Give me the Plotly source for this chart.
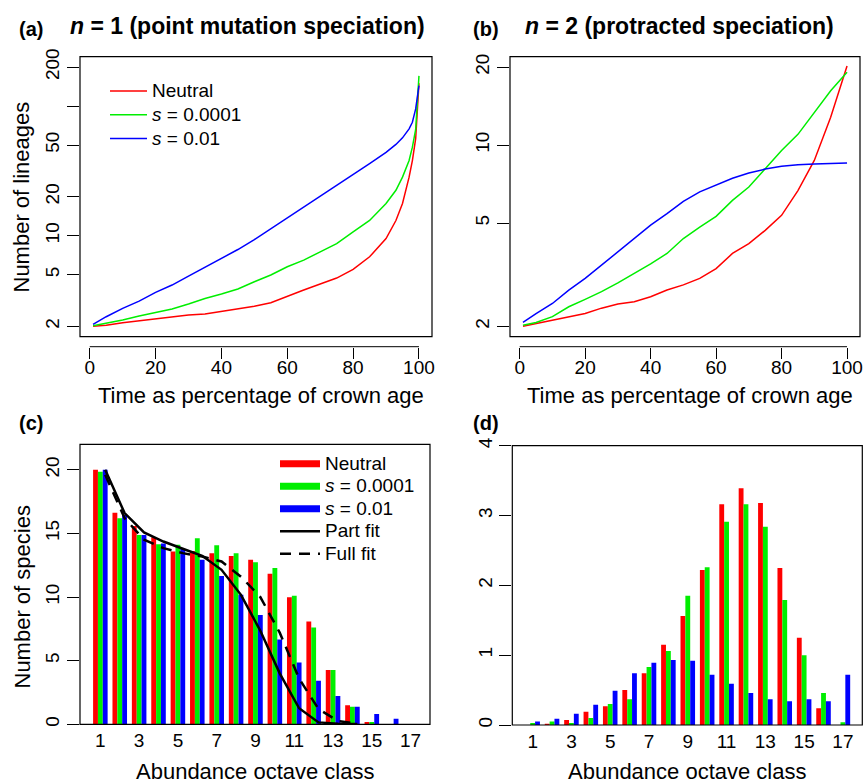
import plotly.graph_objects as go

W, H = 865, 784

# ---------------- data ----------------
# Panel (a): lineages through time, n = 1
t_a = [1, 5, 10, 15, 20, 25, 30, 35, 40, 45, 50, 55, 60, 65, 70, 75, 80, 85, 90, 93, 95, 97, 98, 99, 100]
a_neutral = [2.0, 2.04, 2.13, 2.21, 2.27, 2.37, 2.44, 2.49, 2.60, 2.72, 2.86, 3.04, 3.42, 3.81, 4.24, 4.71,
             5.49, 6.87, 9.5, 13.1, 17.7, 28.3, 38, 56, 150]
a_s0001 = [2.02, 2.11, 2.24, 2.40, 2.55, 2.72, 2.97, 3.28, 3.55, 3.88, 4.41, 4.97, 5.76, 6.48, 7.5, 8.69,
           10.7, 13.1, 17.7, 22.4, 28.3, 38, 48.2, 66, 171]
a_s01 = [2.07, 2.37, 2.75, 3.13, 3.65, 4.16, 4.88, 5.69, 6.67, 7.82, 9.33, 11.3, 13.8, 16.7, 20.1, 24.5,
         29.7, 35.9, 43.9, 50.6, 56.9, 66.7, 75, 95, 144]

# Panel (b): lineages through time, n = 2
t_b = [1, 5, 10, 15, 20, 25, 30, 35, 40, 45, 50, 55, 60, 65, 70, 75, 80, 85, 90, 95, 100]
b_neutral = [2.0, 2.05, 2.11, 2.18, 2.24, 2.35, 2.44, 2.49, 2.60, 2.76, 2.89, 3.06, 3.34, 3.82, 4.17, 4.69,
             5.36, 6.68, 8.73, 12.8, 20.2]
b_s0001 = [2.02, 2.07, 2.18, 2.38, 2.54, 2.72, 2.94, 3.20, 3.48, 3.82, 4.36, 4.83, 5.31, 6.12, 6.89, 8.1,
           9.53, 11.0, 13.4, 16.2, 19.1]
b_s01 = [2.07, 2.24, 2.45, 2.76, 3.06, 3.45, 3.88, 4.36, 4.91, 5.44, 6.07, 6.6, 7.0, 7.45, 7.8, 8.08,
         8.28, 8.4, 8.45, 8.48, 8.53]

# Panel (c): species abundance distribution, n = 1
classes = list(range(1, 18))
c_neutral = [20.0, 16.63, 15.59, 14.7, 13.57, 13.62, 13.44, 13.23, 12.92, 11.82, 9.98, 8.07, 4.27, 1.49, 0.18, 0, 0]
c_s0001 = [19.85, 16.19, 14.88, 14.15, 14.1, 14.62, 14.07, 13.44, 12.73, 12.28, 10.11, 7.6, 4.27, 1.38, 0.18, 0, 0]
c_s01 = [20.0, 16.45, 14.88, 14.2, 13.78, 12.92, 11.66, 10.17, 8.59, 6.66, 4.85, 3.43, 2.22, 1.38, 0.81, 0.44, 0]
fit_classes = list(range(1, 15))
part_fit = [20.0, 16.6, 15.07, 14.36, 13.79, 13.24, 12.14, 10.17, 7.35, 4.0, 1.26, 0.15, 0.05, 0.02]
full_fit = [19.6, 16.2, 14.5, 13.84, 13.45, 13.18, 12.79, 11.6, 10.0, 7.2, 3.6, 1.2, 0.26, 0.05]

# Panel (d): species abundance distribution, n = 2
d_neutral = [0.0, 0.015, 0.07, 0.19, 0.27, 0.50, 0.74, 1.15, 1.56, 2.22, 3.16, 3.39, 3.18, 2.25, 1.25, 0.24, 0.0]
d_s0001 = [0.03, 0.05, 0.03, 0.10, 0.30, 0.37, 0.83, 1.06, 1.85, 2.26, 2.91, 3.16, 2.84, 1.79, 1.00, 0.46, 0.04]
d_s01 = [0.05, 0.09, 0.16, 0.29, 0.49, 0.74, 0.89, 0.93, 0.92, 0.72, 0.59, 0.46, 0.37, 0.34, 0.37, 0.34, 0.72]

series_names = ["Neutral", "<i>s</i> = 0.0001", "<i>s</i> = 0.01"]
colors = ["#FF0000", "#00EE00", "#0000FF"]

time_ticks = [0, 20, 40, 60, 80, 100]
a_yticks = [2, 5, 10, 20, 50, 100, 200]
a_yticklabels = ["2", "5", "10", "20", "50", "", "200"]
b_yticks = [2, 5, 10, 20]
c_yticks = [0, 5, 10, 15, 20]
d_yticks = [0, 1, 2, 3, 4]
octave_ticks = list(range(1, 18, 2))

FONT = "Liberation Sans, Arial, Helvetica, sans-serif"
TICK_SIZE = 19
TITLE_SIZE = 22
LEG_SIZE = 19

BAR_W = 0.25


def px_x(p):
    return p / W


def px_y(p):
    return 1 - p / H


def leg_name(s):
    return f'<span style="font-size:{LEG_SIZE}px">{s}</span>'


fig = go.Figure()

# ---- lines (a) and (b)
for ys, name, col in zip([a_neutral, a_s0001, a_s01], series_names, colors):
    fig.add_trace(go.Scatter(x=t_a, y=ys, mode="lines", name=leg_name(name), line=dict(color=col, width=1.5),
                             xaxis="x", yaxis="y", legend="legend"))
for ys, name, col in zip([b_neutral, b_s0001, b_s01], series_names, colors):
    fig.add_trace(go.Scatter(x=t_b, y=ys, mode="lines", name=name, line=dict(color=col, width=1.5),
                             xaxis="x2", yaxis="y2", showlegend=False))

# ---- bars (c)
offsets = [-1.5 * BAR_W, -0.5 * BAR_W, 0.5 * BAR_W]
for ys, name, col, off in zip([c_neutral, c_s0001, c_s01], series_names, colors, offsets):
    fig.add_trace(go.Bar(x=classes, y=ys, width=BAR_W, offset=off, marker=dict(color=col, line=dict(width=0)),
                         name=name, xaxis="x3", yaxis="y3", showlegend=False))
# legend keys for (c)
for name, col in zip(series_names, colors):
    fig.add_trace(go.Scatter(x=[None], y=[None], mode="lines", name=leg_name(name), line=dict(color=col, width=7),
                             xaxis="x3", yaxis="y3", legend="legend2"))
fit_x = [c + BAR_W for c in fit_classes]
fig.add_trace(go.Scatter(x=fit_x, y=part_fit, mode="lines", name=leg_name("Part fit"),
                         line=dict(color="black", width=2.5), xaxis="x3", yaxis="y3", legend="legend2"))
fig.add_trace(go.Scatter(x=fit_x, y=full_fit, mode="lines", name=leg_name("Full fit"),
                         line=dict(color="black", width=2.5, dash="11px,8px"), xaxis="x3", yaxis="y3",
                         legend="legend2"))

# ---- bars (d)
for ys, name, col, off in zip([d_neutral, d_s0001, d_s01], series_names, colors, offsets):
    fig.add_trace(go.Bar(x=classes, y=ys, width=BAR_W, offset=off, marker=dict(color=col, line=dict(width=0)),
                         name=name, xaxis="x4", yaxis="y4", showlegend=False))

# ---- geometry (pixels)
box_a = (80, 432, 56.7, 336.7)
box_b = (510, 860, 56.7, 336.7)
box_c = (80, 430, 444.3, 724.3)
box_d = (512.3, 862.3, 445.7, 725)
xaxis_line_y = 346.7

tickfont = dict(family=FONT, size=TICK_SIZE, color="black")

common_x = dict(showgrid=False, zeroline=False, showline=False, tickfont=tickfont, automargin=False)
common_y = dict(showgrid=False, zeroline=False, showline=False, tickfont=tickfont, ticks="outside",
                ticklen=12, tickwidth=1, tickcolor="black", tickangle=-90, automargin=False)
time_x = dict(common_x, range=[-2.96, 103.96], anchor="free", position=px_y(xaxis_line_y),
              tickvals=time_ticks, ticks="outside", ticklen=11, tickwidth=1, tickcolor="black",
              ticklabelstandoff=-8)
oct_x = dict(common_x, range=[-0.05, 18.0], tickvals=octave_ticks, ticks="outside", ticklen=1,
             tickcolor="rgba(0,0,0,0)", ticklabelstandoff=-2)

layout = dict(
    width=W, height=H, margin=dict(l=0, r=0, t=0, b=0, pad=0, autoexpand=False),
    paper_bgcolor="white", plot_bgcolor="white",
    font=dict(family=FONT, color="black"),
    barmode="overlay",
    xaxis=dict(time_x, domain=[px_x(box_a[0]), px_x(box_a[1])]),
    yaxis=dict(common_y, domain=[px_y(box_a[3]), px_y(box_a[2])], type="log", range=[0.2206, 2.3810],
               tickvals=a_yticks, ticktext=a_yticklabels, anchor="x"),
    xaxis2=dict(time_x, domain=[px_x(box_b[0]), px_x(box_b[1])]),
    yaxis2=dict(common_y, domain=[px_y(box_b[3]), px_y(box_b[2])], type="log", range=[0.2610, 1.3410],
                tickvals=b_yticks, anchor="x2"),
    xaxis3=dict(oct_x, domain=[px_x(box_c[0]), px_x(box_c[1])], anchor="y3"),
    yaxis3=dict(common_y, domain=[px_y(box_c[3]), px_y(box_c[2])], range=[0, 22], tickvals=c_yticks,
                anchor="x3"),
    xaxis4=dict(oct_x, domain=[px_x(box_d[0]), px_x(box_d[1])], anchor="y4"),
    yaxis4=dict(common_y, domain=[px_y(box_d[3]), px_y(box_d[2])], range=[0, 4], tickvals=d_yticks,
                anchor="x4"),
    legend=dict(x=px_x(105), y=px_y(74), xanchor="left", yanchor="top", bgcolor="rgba(0,0,0,0)",
                font=dict(family=FONT, size=16), tracegroupgap=0, itemwidth=37),
    legend2=dict(x=px_x(275), y=px_y(447.5), xanchor="left", yanchor="top", bgcolor="rgba(0,0,0,0)",
                 font=dict(family=FONT, size=15), tracegroupgap=0, itemwidth=40),
)
fig.update_layout(**layout)

# boxes around the plotting regions
for xr, yr in [("x", "y"), ("x2", "y2"), ("x3", "y3"), ("x4", "y4")]:
    fig.add_shape(type="rect", xref=f"{xr} domain", yref=f"{yr} domain", x0=0, x1=1, y0=0, y1=1,
                  line=dict(color="black", width=1.2), layer="above")
# detached x axis lines for (a) and (b)
for xr in ["x", "x2"]:
    fig.add_shape(type="line", xref=xr, yref="paper", x0=time_ticks[0], x1=time_ticks[-1],
                  y0=px_y(xaxis_line_y), y1=px_y(xaxis_line_y), line=dict(color="black", width=1))

ann = []


def add_text(text, x, y, size, bold=False, angle=0):
    ann.append(dict(text=f"<b>{text}</b>" if bold else text, x=px_x(x), y=px_y(y), xref="paper",
                    yref="paper", xanchor="center", yanchor="middle", showarrow=False, textangle=angle,
                    font=dict(family=FONT, size=size, color="black")))


add_text("(a)", 30.5, 29.5, 20, bold=True)
add_text("<i>n</i> = 1 (point mutation speciation)", 247.5, 26.5, 23, bold=True)
add_text("(b)", 486, 29.5, 20, bold=True)
add_text("<i>n</i> = 2 (protracted speciation)", 679, 26.5, 23, bold=True)
add_text("(c)", 30.5, 422.5, 20, bold=True)
add_text("(d)", 486, 422.5, 20, bold=True)
add_text("Number of lineages", 21.5, 197, TITLE_SIZE, angle=-90)
add_text("Number of species", 21.5, 597, TITLE_SIZE, angle=-90)
add_text("Time as percentage of crown age", 260.5, 395, TITLE_SIZE)
add_text("Time as percentage of crown age", 690, 395, TITLE_SIZE)
add_text("Abundance octave class", 255.5, 771, TITLE_SIZE)
add_text("Abundance octave class", 687, 771, TITLE_SIZE)
fig.update_layout(annotations=ann)

fig.write_html(
    "out.html",
    config={"displayModeBar": False},
    post_script=(
        "document.documentElement.style.margin='0';document.documentElement.style.overflow='hidden';"
        "document.body.style.margin='0';document.body.style.overflow='hidden';"
        "var gd=document.getElementById('{plot_id}');gd.style.position='fixed';"
        "gd.style.top='0px';gd.style.left='0px';"
    ),
)
